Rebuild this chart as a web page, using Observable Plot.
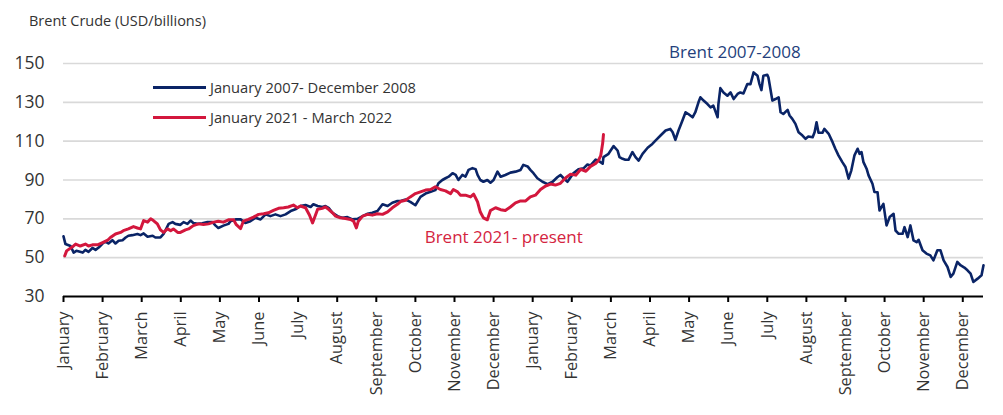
<!DOCTYPE html>
<html>
<head>
<meta charset="utf-8">
<script src="https://cdn.jsdelivr.net/npm/d3@7"></script>
<script src="https://cdn.jsdelivr.net/npm/@observablehq/plot@0.6"></script>
<style>
  html, body { margin: 0; padding: 0; background: #fff; }
  #wrap { position: relative; width: 1003px; height: 415px; overflow: hidden;
          font-family: "Open Sans", "Noto Sans", sans-serif; color: #333; }
  #title { position: absolute; left: 29px; top: 11px; font-size: 14.5px; color: #333; white-space: nowrap; }
  .leg { position: absolute; left: 153px; font-size: 14.7px; color: #333; white-space: nowrap; display: flex; align-items: center; height: 20px; }
  .leg .sw { display: inline-block; width: 53px; height: 0; border-top: 3px solid; margin-right: 4px; }
  #chart { position: absolute; left: 0; top: 0; }
</style>
</head>
<body>
<div id="wrap">
  <div id="chart"></div>
  <div id="title"></div>
  <div id="legend"></div>
</div>
<script>
// ---- data (x positions in months since the start of each period) ----
const monthNames = ["January","February","March","April","May","June","July","August","September","October","November","December"];
const yTicks = [30, 50, 70, 90, 110, 130, 150];

const seriesNames = ["January 2007- December 2008", "January 2021 - March 2022"];
const seriesColors = ["#0a2466", "#d3173d"];

// Brent 2007-2008
const blueMonth = [0,0.05,0.18,0.26,0.33,0.49,0.56,0.64,0.74,0.82,0.90,1.00,1.07,1.15,1.25,1.33,1.41,1.51,1.59,1.66,1.76,1.89,1.97,2.05,2.15,2.28,2.35,2.48,2.56,2.69,2.79,2.86,2.99,3.07,3.17,3.25,3.32,3.43,3.55,3.68,3.81,3.89,3.96,4.09,4.22,4.27,4.40,4.53,4.65,4.78,4.91,5.04,5.17,5.29,5.42,5.55,5.68,5.81,5.93,6.06,6.19,6.32,6.39,6.50,6.62,6.70,6.78,6.88,7.01,7.14,7.26,7.39,7.52,7.65,7.78,7.90,8.03,8.16,8.29,8.41,8.54,8.62,8.75,8.87,9.00,9.13,9.26,9.39,9.51,9.59,9.69,9.77,9.85,9.95,10.03,10.10,10.20,10.28,10.36,10.46,10.54,10.59,10.66,10.74,10.84,10.92,11.00,11.10,11.18,11.30,11.43,11.56,11.69,11.76,11.87,11.94,12.02,12.12,12.25,12.38,12.51,12.63,12.71,12.79,12.89,12.97,13.04,13.17,13.30,13.40,13.48,13.61,13.68,13.79,13.81,13.94,14.07,14.17,14.22,14.30,14.37,14.45,14.55,14.63,14.71,14.81,14.94,15.06,15.14,15.27,15.40,15.52,15.58,15.65,15.73,15.83,15.91,15.98,16.09,16.16,16.24,16.29,16.37,16.47,16.55,16.62,16.73,16.75,16.80,16.88,16.98,17.06,17.14,17.24,17.31,17.39,17.49,17.57,17.65,17.75,17.80,17.85,17.90,18.00,18.03,18.13,18.21,18.29,18.34,18.41,18.52,18.57,18.64,18.72,18.80,18.90,18.98,19.05,19.16,19.21,19.26,19.31,19.41,19.46,19.57,19.67,19.74,19.82,19.92,20.00,20.08,20.15,20.23,20.31,20.36,20.41,20.46,20.54,20.59,20.69,20.74,20.82,20.87,20.97,21.05,21.13,21.23,21.28,21.36,21.46,21.51,21.59,21.66,21.74,21.82,21.87,21.97,22.07,22.17,22.25,22.35,22.43,22.51,22.61,22.69,22.76,22.86,22.94,23.04,23.12,23.20,23.27,23.38,23.48,23.53];
const blueValue = [61.0,57,56,52.6,53.5,52.6,54,53,55,54,55.2,57.3,58.3,57.3,59,57.3,58.7,59,60.4,61.3,61.6,62.2,61.6,62.5,60.8,61.3,60.4,60.4,62.2,67.4,68.3,67.4,66.9,68.3,67.4,69.1,67.9,67.4,67.7,68.3,68.3,66.5,65.3,66.5,67.4,68.8,69.7,69.7,67.9,68.8,70.5,69.7,72.3,71.4,72.3,71.4,72.3,74,74.9,76.6,77.1,76.1,77.5,76.6,76.1,76.6,75.7,73.1,71.4,70.5,70.9,69.7,70,71.4,72.6,73.1,74,77.5,76.6,78.3,79.2,79.2,79.9,78.7,77,81.3,83,83.9,84.8,88.3,90,90.9,91.7,93.5,92.6,90,92.6,91.7,95.2,96.1,95.6,92.6,90,89.1,90,88.6,90,94.3,91.7,92.6,93.8,94.3,95.2,97.8,97,95.2,93.5,90.9,89.1,87.9,89.1,91.4,92.6,90.9,89.1,91.4,93.5,95.5,96,98,97.5,100.5,100,98.4,101.8,103.5,107.5,105.2,101.8,100.9,100.4,100.4,104.4,101.8,100,103.5,106.6,108.6,110.3,112.9,115.5,116.3,114.6,110.7,115.5,120.6,124.9,124,122.3,124.9,130,132.6,130.9,129.1,127.4,128.3,122.3,129.1,137.3,135.1,133.4,135.1,131.7,134.3,135.1,134.6,139.4,139.4,145.4,143.7,139.4,136.3,143.7,144.2,142.8,130.9,131.7,132.6,124.9,124,126.1,123.2,121.5,118.9,114.6,112.9,111.2,112.4,112,114.6,119.7,114.3,114.3,116.3,113.8,109.5,106.1,102.7,99.2,96.7,90.7,95,102.7,106.1,103.5,104.4,99.2,95.8,92.4,88.1,83.8,83.7,74.3,77.7,66.6,70.9,72.6,64,62.3,62.3,65.7,60.6,66.6,58.9,58,59.2,53.8,52.1,51.2,48.6,53.8,53.8,48.6,45.2,40.1,41.8,47.8,46.1,44.9,43.5,41.8,37.5,39.2,40.9,46.1];

// Brent 2021 - present
const redMonth = [0.03,0.08,0.23,0.31,0.43,0.56,0.64,0.74,0.87,1.00,1.13,1.20,1.33,1.46,1.53,1.66,1.79,1.89,1.97,2.05,2.15,2.23,2.30,2.40,2.48,2.56,2.66,2.74,2.81,2.92,2.99,3.12,3.20,3.32,3.45,3.58,3.71,3.84,3.96,4.09,4.22,4.35,4.42,4.53,4.60,4.73,4.86,4.99,5.12,5.24,5.37,5.50,5.63,5.75,5.88,5.98,6.06,6.19,6.29,6.37,6.50,6.62,6.70,6.78,6.88,6.96,7.08,7.21,7.34,7.42,7.49,7.54,7.65,7.78,7.90,8.03,8.16,8.29,8.41,8.54,8.62,8.75,8.87,9.00,9.13,9.26,9.39,9.51,9.64,9.77,9.90,9.97,10.08,10.15,10.28,10.41,10.49,10.59,10.66,10.74,10.84,10.92,11.05,11.18,11.30,11.43,11.56,11.69,11.82,11.94,12.07,12.20,12.33,12.46,12.58,12.71,12.84,12.97,13.10,13.23,13.36,13.48,13.61,13.68,13.74,13.79,13.81];
const redValue = [50.9,53.5,55.6,57,56,57,56,56.6,56.6,57.8,59,60.4,62.2,63,63.9,64.8,66,65.3,64.8,69.1,68.3,70,69.1,67.4,64.3,63,64.8,63.9,64.8,63,63,64.3,64.8,66.5,67.4,67.1,67.4,68.3,68.8,68.3,69.5,69.5,67,65,68.8,69.7,70.9,72.3,72.6,73.1,74.3,75.4,75.7,76.1,77.1,75.7,76.6,75.7,72,67.9,74.9,75.4,76.1,74.9,73.1,71.4,70.5,70.2,69.7,68.8,65.3,68.8,71.4,72.3,71.9,72.6,72.3,73.6,75.7,77.5,78.9,79.6,81.3,83,83.9,84.8,85.1,86.5,85.1,84.4,83,85.1,83.9,82.2,82.2,81.3,82.7,78.7,73.5,70.5,69.5,74.3,75.7,74.7,74.3,76.1,78.2,79.2,79.2,81.3,82.2,85.1,86.9,87.9,87.4,88.3,91,93,92.5,95.5,94.5,97,98.5,100,102.5,109,113.4];

const annotations = [
  {x: 17.17, y: 155.6, text: "Brent 2007-2008", color: "#243f7c"},
  {x: 11.26, y: 60.6, text: "Brent 2021- present", color: "#d4243f"}
];

// ---- chart ----
const font = '"Open Sans", "Noto Sans", sans-serif';
const blue = blueValue.map((v, i) => ({x: blueMonth[i], y: v}));
const red = redValue.map((v, i) => ({x: redMonth[i], y: v}));

const chart = Plot.plot({
  width: 1003,
  height: 415,
  marginLeft: 63,
  marginRight: 20,
  marginTop: 63,
  marginBottom: 119,
  style: {fontFamily: font, background: "#fff", color: "#333", overflow: "visible"},
  x: {domain: [0, 23.53]},
  y: {domain: [30, 150]},
  marks: [
    Plot.gridY(yTicks.slice(1), {stroke: "#d9d9d9", strokeOpacity: 1, strokeWidth: 1.6}),
    Plot.axisY({ticks: yTicks, tickSize: 0, tickPadding: 19, fontSize: 17.5, fill: "#333", label: null}),
    Plot.line(blue, {x: "x", y: "y", stroke: seriesColors[0], strokeWidth: 2.6, strokeLinejoin: "round"}),
    Plot.line(red, {x: "x", y: "y", stroke: seriesColors[1], strokeWidth: 3, strokeLinejoin: "round"}),
    Plot.ruleY([30], {stroke: "#000", strokeWidth: 2.2}),
    Plot.axisX({ticks: d3.range(24), tickFormat: i => monthNames[i % 12], tickRotate: -90, tickSize: 6, tickPadding: 9,
                fontSize: 16.3, stroke: "#000", strokeWidth: 2, fill: "#333", label: null}),
    Plot.text(annotations, {x: "x", y: "y", text: "text", fill: "color", fontSize: 17, textAnchor: "middle"})
  ]
});
document.getElementById("chart").appendChild(chart);

document.getElementById("title").textContent = "Brent Crude (USD/billions)";
const legend = document.getElementById("legend");
seriesNames.forEach((name, i) => {
  const row = document.createElement("div");
  row.className = "leg";
  row.style.top = (i === 0 ? 77 : 107) + "px";
  const sw = document.createElement("span");
  sw.className = "sw";
  sw.style.borderTopColor = seriesColors[i];
  row.appendChild(sw);
  row.appendChild(document.createTextNode(name));
  legend.appendChild(row);
});
</script>
</body>
</html>
